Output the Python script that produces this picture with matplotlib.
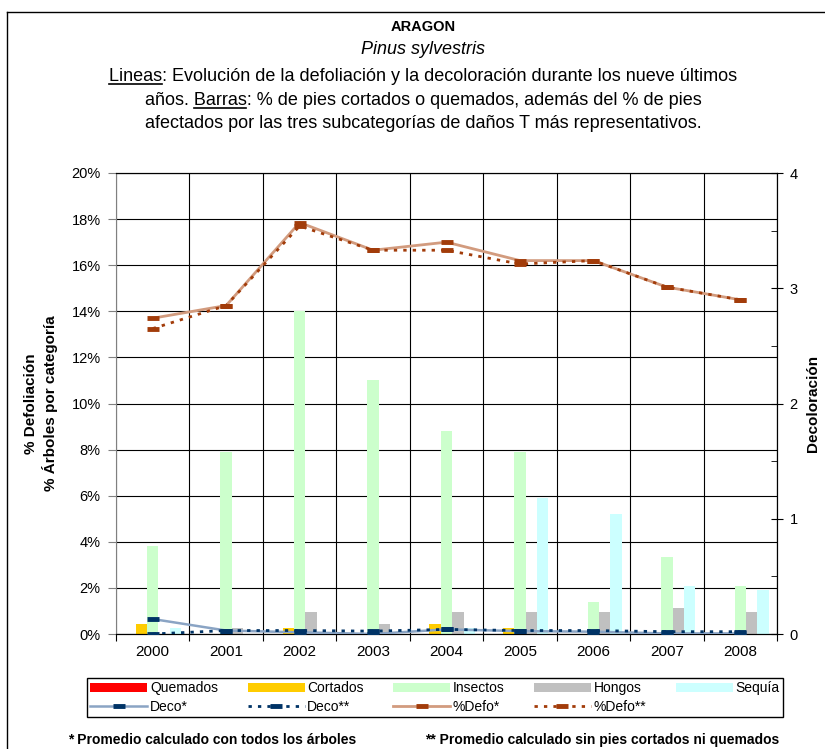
import numpy as np
import matplotlib
matplotlib.use("Agg")
import matplotlib.pyplot as plt
from matplotlib.lines import Line2D
from matplotlib.patches import Patch

plt.rcParams['font.family'] = ['Liberation Sans', 'DejaVu Sans']

years = ['2000', '2001', '2002', '2003', '2004', '2005', '2006', '2007', '2008']

# barras: % de arboles por categoria
quemados = [0, 0, 0, 0, 0, 0, 0, 0, 0]
cortados = [0.43, 0, 0.26, 0, 0.43, 0.26, 0, 0, 0]
insectos = [3.8, 7.9, 14.0, 11.0, 8.8, 7.9, 1.4, 3.35, 2.1]
hongos = [0, 0.26, 0.97, 0.43, 0.97, 0.97, 0.97, 1.14, 0.97]
sequia = [0.25, 0, 0, 0, 0.26, 5.9, 5.2, 2.1, 1.9]

# lineas: defoliacion (%) y decoloracion
defo_all = [13.7, 14.25, 17.85, 16.65, 17.0, 16.2, 16.2, 15.05, 14.5]
defo_sin = [13.25, 14.25, 17.7, 16.65, 16.65, 16.05, 16.2, 15.05, 14.5]
deco_all = [0.13, 0.03, 0.015, 0.0, 0.04, 0.025, 0.02, 0.005, 0.005]
deco_sin = [0.0, 0.03, 0.03, 0.025, 0.04, 0.03, 0.03, 0.02, 0.02]

W, H = 825, 749
fig = plt.figure(figsize=(W / 100, H / 100), dpi=100)
ax = fig.add_axes([116 / W, 1 - 634 / H, (777 - 116) / W, (634 - 173) / H])

x = np.arange(len(years))
w = 0.155
bar_series = [(quemados, '#FF0000', 'Quemados'),
              (cortados, '#FFCC00', 'Cortados'),
              (insectos, '#CCFFCC', 'Insectos'),
              (hongos, '#C0C0C0', 'Hongos'),
              (sequia, '#CCFFFF', 'Sequía')]
bar_handles = []
for i, (vals, col, lab) in enumerate(bar_series):
    ax.bar(x + (i - 2) * w, vals, w, color=col, zorder=2)
    bar_handles.append(Patch(facecolor=col, label=lab))

defo_line = '#D29B7E'
dark_red = '#A23C0A'
deco_line = '#8AA4C4'
navy = '#003366'

l3, = ax.plot(x, defo_all, '-', color=defo_line, lw=2, marker='_', ms=8, mew=3.5,
              mec=dark_red, zorder=4, label='%Defo*')
l4, = ax.plot(x, defo_sin, color=dark_red, lw=2, ls=(0, (1.2, 2.2)), marker='_', ms=8,
              mew=3.5, mec=dark_red, zorder=5, label='%Defo**')

ax.set_xlim(-0.5, len(years) - 0.5)
ax.set_ylim(0, 20)
ax.set_xticks(np.arange(-0.5, len(years), 1))
ax.set_xticklabels([])
ax.set_xticks(x, minor=True)
ax.set_xticklabels(years, minor=True, fontsize=11)
ax.tick_params(axis='x', which='minor', length=0, pad=8)
ax.tick_params(axis='x', which='major', length=5, direction='out')
ax.set_yticks(range(0, 21, 2))
ax.set_yticklabels([f'{v}%' for v in range(0, 21, 2)], fontsize=10.5)
ax.tick_params(axis='y', length=6, direction='out', color='#808080', pad=5)
ax.grid(True, which='major', color='black', lw=0.8)
ax.set_axisbelow(True)
ax.spines['left'].set_color('#808080')
ax.set_ylabel('% Defoliación\n% Árboles por categoría', fontsize=11,
              fontweight='bold', labelpad=10, linespacing=1.3)

ax2 = ax.twinx()
ax2.set_ylim(0, 4)
ax2.set_yticks([0, 1, 2, 3, 4])
ax2.set_yticks(np.arange(0.5, 4, 1), minor=True)
ax2.tick_params(axis='y', which='major', direction='inout', length=8, labelsize=10.5, pad=5)
ax2.tick_params(axis='y', which='minor', direction='in', length=4)
ax2.spines['left'].set_visible(False)
l1, = ax2.plot(x, deco_all, '-', color=deco_line, lw=1.8, marker='_', ms=8, mew=3.5,
               mec=navy, zorder=4, label='Deco*')
l2, = ax2.plot(x, deco_sin, color=navy, lw=2, ls=(0, (1.2, 2.2)), marker='_', ms=8,
               mew=3.5, mec=navy, zorder=5, label='Deco**')
ax2.set_ylabel('Decoloración', fontsize=11, fontweight='bold', labelpad=6)

# leyenda: barras arriba, lineas abajo
line_handles = [l1, l2, l3, l4]
handles = []
for i in range(5):
    handles.append(bar_handles[i])
    if i < 4:
        handles.append(line_handles[i])
leg = fig.legend(handles=handles, labels=[h.get_label() for h in handles],
                 loc='lower left', bbox_to_anchor=(87 / W, 1 - 717 / H, (783 - 87) / W, 39 / H),
                 mode='expand', ncol=5, fontsize=10, fancybox=False, edgecolor='black',
                 framealpha=1, handlelength=4.1, handleheight=0.65, handletextpad=0.2,
                 borderaxespad=0, borderpad=0.25, labelspacing=0.3, columnspacing=0.5)
leg.get_frame().set_linewidth(1)

# titulos
cx = 423 / W
fig.text(cx, 1 - 31 / H, 'ARAGON', ha='center', va='baseline', fontsize=10.5, fontweight='bold')
fig.text(cx, 1 - 54 / H, 'Pinus sylvestris', ha='center', va='baseline', fontsize=13, style='italic')
desc = ['Lineas: Evolución de la defoliación y la decoloración durante los nueve últimos',
        'años. Barras: % de pies cortados o quemados, además del % de pies',
        'afectados por las tres subcategorías de daños T más representativos.']
bases = [81, 105, 128]
fs = 13
texts = [fig.text(cx, 1 - b / H, s, ha='center', va='baseline', fontsize=fs)
         for s, b in zip(desc, bases)]

renderer = fig.canvas.get_renderer()


def text_width(s):
    t = fig.text(0, 0, s, fontsize=fs)
    wd = t.get_window_extent(renderer).width
    t.remove()
    return wd


def underline(t, prefix, word, base):
    bb = t.get_window_extent(renderer)
    x1 = bb.x0 + text_width(prefix + word)
    x0 = x1 - text_width(word)
    y = (H - base - 3) / H
    fig.add_artist(Line2D([x0 / W, x1 / W], [y, y], color='black', lw=1.2,
                          transform=fig.transFigure))


underline(texts[0], '', 'Lineas', bases[0])
underline(texts[1], 'años. ', 'Barras', bases[1])

# notas
fig.text(68 / W, 1 - 740 / H, '* Promedio calculado con todos los árboles',
         fontsize=10, fontweight='bold', va='center')
fig.text(425 / W, 1 - 740 / H, '** Promedio calculado sin pies cortados ni quemados',
         fontsize=10, fontweight='bold', va='center')

# marco del grafico
fig.add_artist(Line2D([7 / W, 1], [1 - 12 / H, 1 - 12 / H], color='black', lw=1,
                      transform=fig.transFigure))
fig.add_artist(Line2D([7 / W, 7 / W], [0, 1 - 12 / H], color='black', lw=1,
                      transform=fig.transFigure))

fig.savefig('out.png', dpi=100)
